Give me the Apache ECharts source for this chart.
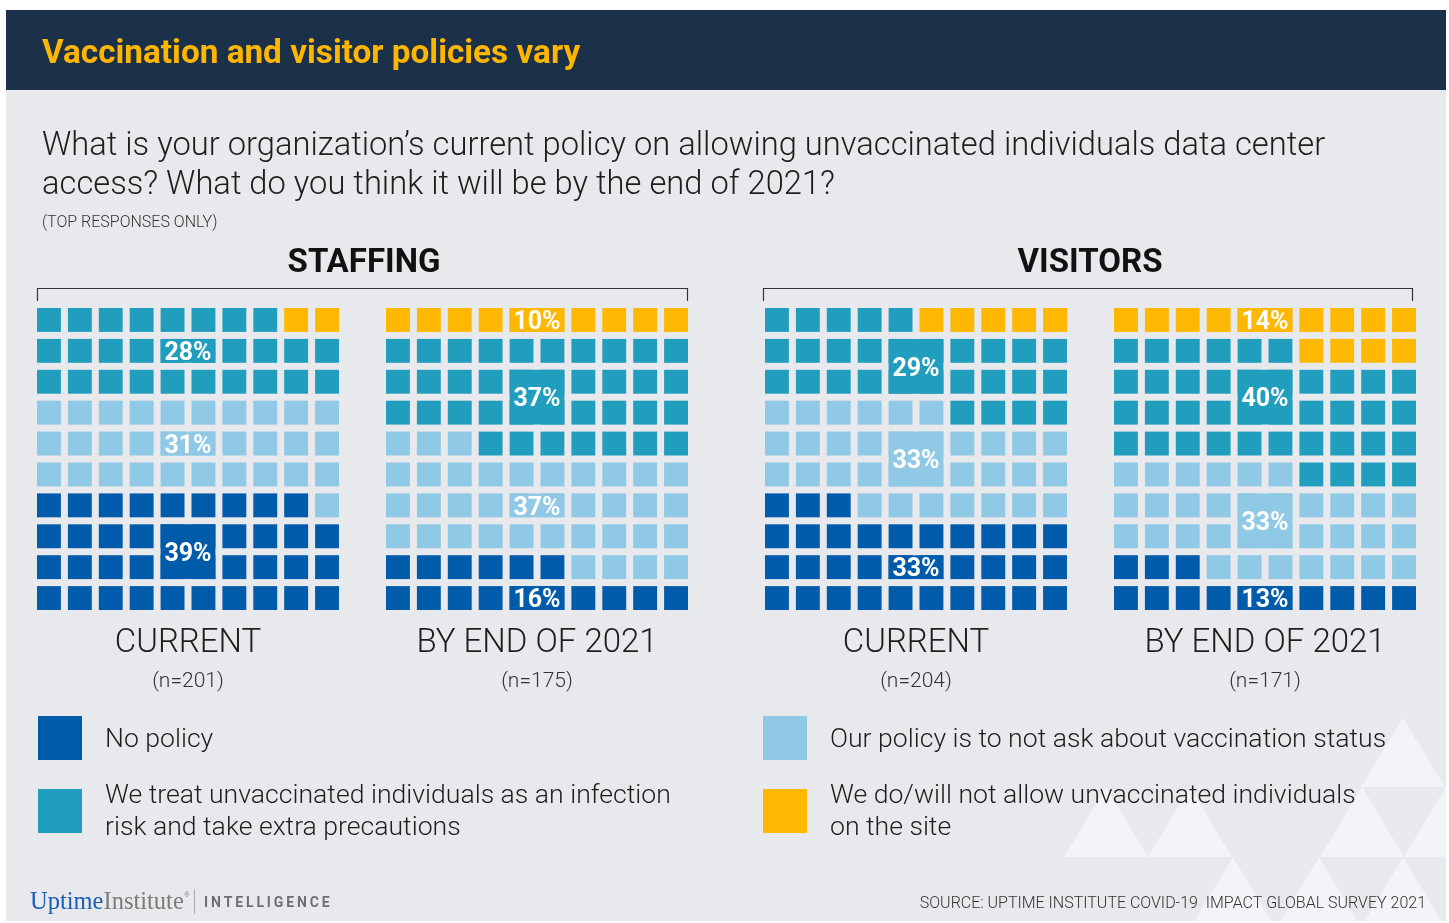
<!DOCTYPE html>
<html>
<head>
<meta charset="utf-8">
<script src="https://cdn.jsdelivr.net/npm/echarts@6/dist/echarts.min.js"></script>
<style>
html,body{margin:0;padding:0;background:#ffffff;}
#chart{width:1449px;height:923px;}
</style>
</head>
<body>
<div id="chart"></div>
<script>
// ---------- DATA ----------
const groups = ['STAFFING', 'VISITORS'];
const panelTitles = ['CURRENT', 'BY END OF 2021', 'CURRENT', 'BY END OF 2021'];
const sampleSizes = ['(n=201)', '(n=175)', '(n=204)', '(n=171)'];
const categories = [
  'No policy',
  'Our policy is to not ask about vaccination status',
  'We treat unvaccinated individuals as an infection risk and take extra precautions',
  'We do/will not allow unvaccinated individuals on the site'
];
// percentages per panel (staffing current, staffing end 2021, visitors current, visitors end 2021)
const noPolicy          = [39, 16, 33, 13];
const notAskStatus      = [31, 37, 33, 33];
const extraPrecautions  = [28, 37, 29, 40];
const notAllowed        = [2, 10, 5, 14];

// ---------- LAYOUT / STYLE ----------
const colors = ['#005BAA', '#90C9E5', '#219EBE', '#FFB801'];
const gridLefts = [33.5, 382.5, 761.5, 1110.5];
const gridTop = 304.5, gridSize = 309, gap = 7;
// label box placement per panel per category: [topRow, rowSpan] or null
const labelBoxes = [
  [[7, 2], [4, 1], [1, 1], null],
  [[9, 1], [6, 1], [2, 2], [0, 1]],
  [[8, 1], [4, 2], [1, 2], null],
  [[9, 1], [6, 2], [2, 2], [0, 1]]
];
const FONT = 'Roboto, "Noto Sans", sans-serif';

const seriesValues = [noPolicy, notAskStatus, extraPrecautions, notAllowed];

const chart = echarts.init(document.getElementById('chart'), null, {renderer: 'canvas'});

const grids = [], xAxes = [], yAxes = [], series = [];
for (let p = 0; p < 4; p++) {
  grids.push({left: gridLefts[p], top: gridTop, width: gridSize, height: gridSize});
  xAxes.push({type: 'value', gridIndex: p, min: 0, max: 10, show: false});
  yAxes.push({type: 'value', gridIndex: p, min: 0, max: 10, inverse: true, show: false});
  const cells = [];
  let idx = 0;
  for (let c = 0; c < 4; c++) {
    for (let k = 0; k < seriesValues[c][p]; k++) {
      const col = idx % 10;
      const rowFromTop = 9 - Math.floor(idx / 10);
      cells.push([col, rowFromTop, c]);
      idx++;
    }
  }
  series.push({
    type: 'custom', xAxisIndex: p, yAxisIndex: p, silent: true,
    data: cells,
    renderItem: function (params, api) {
      const tl = api.coord([api.value(0), api.value(1)]);
      const sz = api.size([1, 1]);
      return {
        type: 'rect',
        shape: {x: tl[0] + gap / 2, y: tl[1] + gap / 2, width: sz[0] - gap, height: sz[1] - gap},
        style: {fill: colors[api.value(2)]}
      };
    }
  });
  const labels = [];
  for (let c = 0; c < 4; c++) {
    const b = labelBoxes[p][c];
    if (b) labels.push([b[0], b[1], seriesValues[c][p], c]);
  }
  series.push({
    type: 'custom', xAxisIndex: p, yAxisIndex: p, silent: true, z: 5,
    data: labels,
    renderItem: function (params, api) {
      const top = api.value(0), span = api.value(1);
      const a = api.coord([4, top]);
      const b = api.coord([6, top + span]);
      const x = a[0] + gap / 2, y = a[1] + gap / 2;
      const w = b[0] - a[0] - gap, h = b[1] - a[1] - gap;
      return {
        type: 'group',
        children: [
          {type: 'rect', shape: {x: x, y: y, width: w, height: h}, style: {fill: colors[api.value(3)]}},
          {type: 'text', style: {x: x + w / 2, y: y + h / 2 + 3, text: api.value(2) + '%', fill: '#ffffff',
            fontFamily: FONT, fontWeight: 'bold', fontSize: 25, textAlign: 'center', textVerticalAlign: 'middle'}}
        ]
      };
    }
  });
}

// ---------- decorative + text graphics ----------
const g = [];
g.push({type: 'rect', shape: {x: 6, y: 90, width: 1440, height: 831}, style: {fill: '#E8E9ED'}, z: -10});
g.push({type: 'rect', shape: {x: 6, y: 10, width: 1440, height: 80}, style: {fill: '#1B3049'}, z: -10});
const tri = [
  [1403, 718, 787], [1106, 787, 857], [1190, 787, 857], [1362, 787, 857], [1446, 787, 857],
  [1233, 857, 927], [1319, 857, 927], [1403, 857, 927]
];
const triChildren = tri.map(t => ({type: 'polygon', shape: {points: [[t[0], t[1]], [t[0] - 42, t[2]], [t[0] + 42, t[2]]]}, style: {fill: '#F3F4F7'}}));
g.push({type: 'group', children: triChildren, z: -9, clipPath: {type: 'rect', shape: {x: 6, y: 90, width: 1440, height: 831}}});

function txt(x, y, text, size, opts) {
  return Object.assign({type: 'text', z: 10, style: Object.assign({x: x, y: y, text: text, fontSize: size, fontFamily: FONT,
    fontWeight: 300, fill: '#1E1E1E', textAlign: 'left', textVerticalAlign: 'middle'}, opts || {})});
}
g.push(txt(42, 55, 'Vaccination and visitor policies vary', 33.3, {fontWeight: 'bold', fill: '#FFB600'}));
g.push(txt(42, 147, 'What is your organization’s current policy on allowing unvaccinated individuals data center', 32.7));
g.push(txt(42, 186, 'access? What do you think it will be by the end of 2021?', 32.7));
g.push(txt(42, 223, '(TOP RESPONSES ONLY)', 16, {fill: '#333333'}));
const groupCenters = [364, 1090];
const brackets = [[37, 688], [763, 1413]];
for (let i = 0; i < 2; i++) {
  g.push(txt(groupCenters[i], 264, groups[i], 33, {fontWeight: 'bold', textAlign: 'center', fill: '#111111'}));
  g.push({type: 'polyline', z: 10, shape: {points: [[brackets[i][0] + 0.5, 301], [brackets[i][0] + 0.5, 288.5], [brackets[i][1] - 0.5, 288.5], [brackets[i][1] - 0.5, 301]]},
    style: {stroke: '#333333', lineWidth: 1.2, fill: null}});
}
for (let p = 0; p < 4; p++) {
  const cx = gridLefts[p] + gridSize / 2;
  g.push(txt(cx, 644, panelTitles[p], 33, {textAlign: 'center'}));
  g.push(txt(cx, 682, sampleSizes[p], 21, {textAlign: 'center', fill: '#333333'}));
}
const legendPos = [[38, 716], [38, 789], [763, 716], [763, 789]];
const legendOrder = [0, 2, 1, 3];
const legendLines = {
  0: ['No policy'],
  2: ['We treat unvaccinated individuals as an infection', 'risk and take extra precautions'],
  1: ['Our policy is to not ask about vaccination status'],
  3: ['We do/will not allow unvaccinated individuals', 'on the site']
};
legendOrder.forEach((c, i) => {
  const pos = legendPos[i];
  g.push({type: 'rect', z: 10, shape: {x: pos[0], y: pos[1], width: 44, height: 44}, style: {fill: colors[c]}});
  const lines = legendLines[c];
  if (lines.length === 1) {
    g.push(txt(pos[0] + 67, pos[1] + 24, lines[0], 26.6));
  } else {
    g.push(txt(pos[0] + 67, pos[1] + 7, lines[0], 26.6));
    g.push(txt(pos[0] + 67, pos[1] + 39, lines[1], 26.6));
  }
});
g.push({type: 'text', z: 10, style: {x: 30, y: 903, text: '{a|Uptime}{b|Institute}{c|®}', textVerticalAlign: 'middle',
  rich: {
    a: {fontFamily: '"Liberation Serif", "DejaVu Serif", serif', fontSize: 24.5, fill: '#1C5DB5', color: '#1C5DB5'},
    b: {fontFamily: '"Liberation Serif", "DejaVu Serif", serif', fontSize: 24.5, fill: '#7B7B7B', color: '#7B7B7B'},
    c: {fontFamily: '"Liberation Serif", serif', fontSize: 8, fill: '#7B7B7B', color: '#7B7B7B', verticalAlign: 'top', padding: [0, 0, 10, 0]}
  }}});
g.push({type: 'line', z: 10, shape: {x1: 194.5, y1: 889, x2: 194.5, y2: 914}, style: {stroke: '#AAAAAA', lineWidth: 1}});
g.push(txt(204, 903, 'I\u2009N\u2009T\u2009E\u2009L\u2009L\u2009I\u2009G\u2009E\u2009N\u2009C\u2009E', 14, {fontWeight: 'bold', fill: '#6E6F72'}));
g.push(txt(1426, 904, 'SOURCE: UPTIME INSTITUTE COVID-19  IMPACT GLOBAL SURVEY 2021', 16, {textAlign: 'right', fill: '#333333'}));

chart.setOption({
  animation: false,
  backgroundColor: '#ffffff',
  grid: grids,
  xAxis: xAxes,
  yAxis: yAxes,
  series: series,
  graphic: g
});
</script>
</body>
</html>
